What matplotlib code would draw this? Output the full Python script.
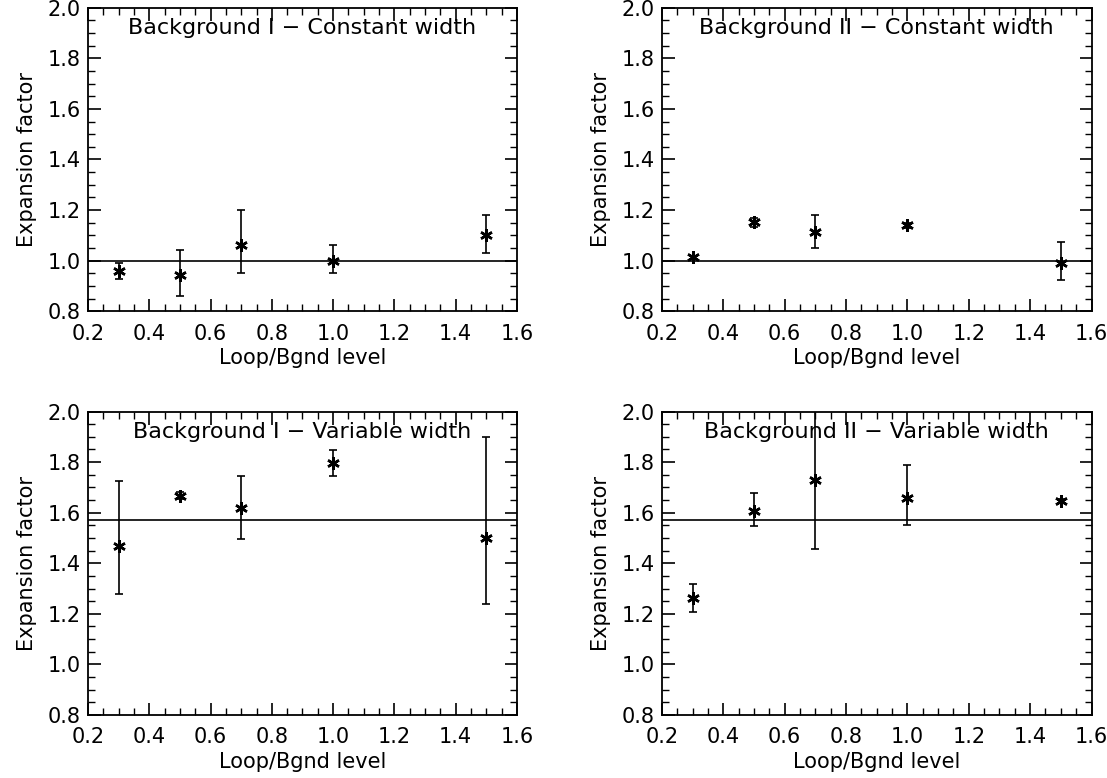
import numpy as np
import matplotlib
matplotlib.use('Agg')
import matplotlib.pyplot as plt
from matplotlib.ticker import MultipleLocator, FormatStrFormatter

# Loop/background intensity levels
levels = [0.3, 0.5, 0.7, 1.0, 1.5]

# Background I - constant width
bg1_const = [0.96, 0.945, 1.063, 1.0, 1.10]
bg1_const_lo = [0.929, 0.86, 0.952, 0.952, 1.032]
bg1_const_hi = [0.992, 1.043, 1.20, 1.061, 1.181]

# Background II - constant width
bg2_const = [1.013, 1.152, 1.112, 1.139, 0.989]
bg2_const_lo = [1.005, 1.133, 1.049, 1.131, 0.923]
bg2_const_hi = [1.020, 1.169, 1.181, 1.147, 1.072]

# Background I - variable width
bg1_var = [1.468, 1.668, 1.619, 1.798, 1.499]
bg1_var_lo = [1.277, 1.655, 1.497, 1.747, 1.237]
bg1_var_hi = [1.726, 1.682, 1.747, 1.849, 1.898]

# Background II - variable width
bg2_var = [1.261, 1.608, 1.729, 1.658, 1.647]
bg2_var_lo = [1.207, 1.548, 1.457, 1.552, 1.639]
bg2_var_hi = [1.317, 1.678, 2.05, 1.787, 1.655]

titles = ['Background I \u2212 Constant width', 'Background II \u2212 Constant width',
          'Background I \u2212 Variable width', 'Background II \u2212 Variable width']
ref_levels = [1.0, 1.0, 1.57, 1.57]

panels = [(bg1_const, bg1_const_lo, bg1_const_hi),
          (bg2_const, bg2_const_lo, bg2_const_hi),
          (bg1_var, bg1_var_lo, bg1_var_hi),
          (bg2_var, bg2_var_lo, bg2_var_hi)]

plt.rcParams['font.family'] = ['DejaVu Sans']
plt.rcParams['font.size'] = 15

fig = plt.figure(figsize=(11.07, 7.78), dpi=100)
rects = [[0.0795, 0.600, 0.3875, 0.39],
         [0.598, 0.600, 0.388, 0.39],
         [0.0795, 0.081, 0.3875, 0.39],
         [0.598, 0.081, 0.388, 0.39]]

for rect, (y, lo, hi), title, ref in zip(rects, panels, titles, ref_levels):
    ax = fig.add_axes(rect)
    y = np.array(y)
    yerr = [y - np.array(lo), np.array(hi) - y]
    ax.errorbar(levels, y, yerr=yerr, fmt='none', ecolor='black',
                elinewidth=1.2, capsize=3, capthick=1.2)
    ax.plot(levels, y, linestyle='none', marker=(6, 2, 0), markersize=9,
            markeredgewidth=1.8, color='black')
    ax.axhline(ref, color='black', linewidth=1.2)
    ax.set_xlim(0.2, 1.6)
    ax.set_ylim(0.8, 2.0)
    ax.xaxis.set_major_locator(MultipleLocator(0.2))
    ax.xaxis.set_minor_locator(MultipleLocator(0.05))
    ax.yaxis.set_major_locator(MultipleLocator(0.2))
    ax.yaxis.set_minor_locator(MultipleLocator(0.05))
    ax.xaxis.set_major_formatter(FormatStrFormatter('%.1f'))
    ax.yaxis.set_major_formatter(FormatStrFormatter('%.1f'))
    ax.tick_params(which='both', direction='in', top=True, right=True)
    ax.tick_params(which='major', length=9, width=1.2)
    ax.tick_params(axis='x', which='major', pad=9)
    ax.tick_params(axis='y', which='major', pad=5)
    ax.tick_params(which='minor', length=5, width=1.0)
    for s in ax.spines.values():
        s.set_linewidth(1.3)
    ax.set_xlabel('Loop/Bgnd level', labelpad=3)
    ax.set_ylabel('Expansion factor', labelpad=8)
    ax.text(0.5, 0.965, title, transform=ax.transAxes, ha='center', va='top',
            fontsize=16)

plt.savefig('out.png', dpi=100)
